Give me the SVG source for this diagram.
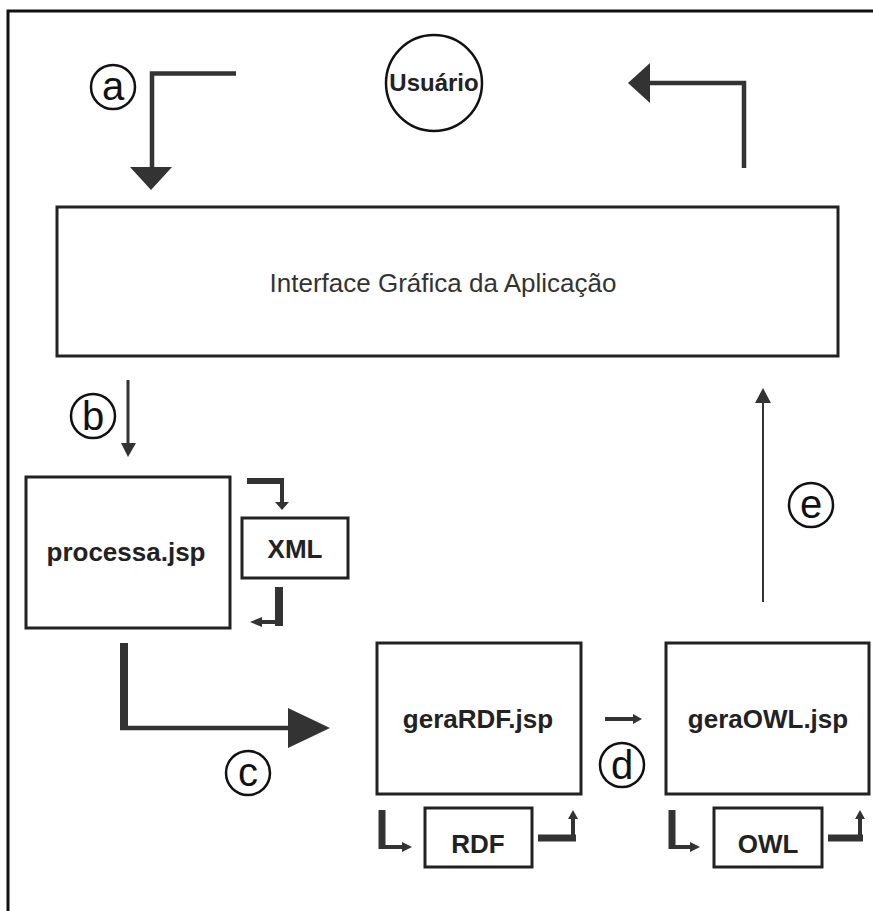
<svg xmlns="http://www.w3.org/2000/svg" width="873" height="911" viewBox="0 0 873 911">
<style>
.box{fill:#fff;stroke:#222;stroke-width:3}
.ln{fill:none;stroke:#333;stroke-linejoin:miter;stroke-linecap:butt}
.ah{fill:#333}
.lbl{font-family:"Liberation Sans",Arial,sans-serif;font-weight:bold;fill:#222;text-anchor:middle}
.main{font-family:"Liberation Sans",Arial,sans-serif;fill:#333;text-anchor:middle}
.circ{fill:#fff;stroke:#111;stroke-width:2.5}
.let{font-family:"Liberation Sans",Arial,sans-serif;fill:#111;text-anchor:middle}
</style>
<rect width="873" height="911" fill="#fff"/>
<path d="M8,911 V11 H873" fill="none" stroke="#111" stroke-width="3"/>

<g id="usuario">
<circle cx="434" cy="83" r="48" class="circ"/>
<text x="434" y="91" class="lbl" font-size="24">Usuário</text>
</g>

<g id="interface">
<rect x="57" y="207" width="781" height="149" class="box"/>
<text x="443" y="292" class="main" font-size="26">Interface Gráfica da Aplicação</text>
</g>

<g id="processa">
<rect x="26" y="477" width="204" height="151" class="box"/>
<text x="126" y="561" class="lbl" font-size="26">processa.jsp</text>
</g>

<g id="xml">
<rect x="242" y="518" width="106" height="60" class="box"/>
<text x="295" y="558" class="lbl" font-size="26">XML</text>
</g>

<g id="geraRDF">
<rect x="377" y="643" width="204" height="151" class="box"/>
<text x="478" y="728" class="lbl" font-size="26">geraRDF.jsp</text>
</g>

<g id="geraOWL">
<rect x="666" y="643" width="203" height="151" class="box"/>
<text x="768" y="728" class="lbl" font-size="26">geraOWL.jsp</text>
</g>

<g id="rdf">
<rect x="425" y="808" width="107" height="59" class="box"/>
<text x="478" y="853" class="lbl" font-size="26">RDF</text>
</g>

<g id="owl">
<rect x="714" y="808" width="108" height="59" class="box"/>
<text x="768" y="853" class="lbl" font-size="26">OWL</text>
</g>

<g id="connectors">
<!-- a -->
<path d="M236,73.5 H152 V168" class="ln" stroke-width="4.5"/>
<polygon points="130,167 172,167 151,190" class="ah"/>
<!-- top right -->
<path d="M744,168 V83 H650" class="ln" stroke-width="4.5"/>
<polygon points="650,63 650,103 628,83" class="ah"/>
<!-- b -->
<path d="M128,380 V445" class="ln" stroke-width="3"/>
<polygon points="121,443 136,443 128,457" class="ah"/>
<!-- xml top -->
<path d="M247,481 H282" class="ln" stroke-width="6"/>
<path d="M282,478 V503" class="ln" stroke-width="4"/>
<polygon points="275,502 289,502 282,510" class="ah"/>
<!-- xml bottom -->
<path d="M279,587 V626" class="ln" stroke-width="8"/>
<path d="M283,622 H260" class="ln" stroke-width="4"/>
<polygon points="262,617 262,627 250,622" class="ah"/>
<!-- c -->
<path d="M124,643 V730" class="ln" stroke-width="8"/>
<path d="M120,728 H290" class="ln" stroke-width="4.5"/>
<polygon points="288,708 288,748 330,728" class="ah"/>
<!-- d -->
<path d="M605,719 H634" class="ln" stroke-width="4"/>
<polygon points="633,714 633,724 642,719" class="ah"/>
<!-- e -->
<path d="M763,602 V400" class="ln" stroke-width="2"/>
<polygon points="755,403 771,403 763,388" class="ah"/>
<!-- rdf in -->
<path d="M382,810 V849" class="ln" stroke-width="7"/>
<path d="M379,847 H404" class="ln" stroke-width="4"/>
<polygon points="402,842 402,852 412,847" class="ah"/>
<!-- rdf out -->
<path d="M538,838 H576" class="ln" stroke-width="7"/>
<path d="M573,841 V818" class="ln" stroke-width="4"/>
<polygon points="568,819 578,819 573,810" class="ah"/>
<!-- owl in -->
<path d="M672,810 V849" class="ln" stroke-width="7"/>
<path d="M669,847 H692" class="ln" stroke-width="4"/>
<polygon points="690,842 690,852 700,847" class="ah"/>
<!-- owl out -->
<path d="M828,838 H863" class="ln" stroke-width="7"/>
<path d="M860,841 V818" class="ln" stroke-width="4"/>
<polygon points="855,819 865,819 860,810" class="ah"/>
</g>

<g id="label-a"><circle cx="113" cy="87" r="22" class="circ"/><text x="113" y="100" class="let" font-size="40">a</text></g>
<g id="label-b"><circle cx="93" cy="416" r="22" class="circ"/><text x="93" y="430" class="let" font-size="40">b</text></g>
<g id="label-c"><circle cx="248" cy="773" r="22" class="circ"/><text x="248" y="786" class="let" font-size="40">c</text></g>
<g id="label-d"><circle cx="622" cy="765" r="22" class="circ"/><text x="622" y="779" class="let" font-size="40">d</text></g>
<g id="label-e"><circle cx="811" cy="505" r="22" class="circ"/><text x="811" y="518" class="let" font-size="40">e</text></g>
</svg>
